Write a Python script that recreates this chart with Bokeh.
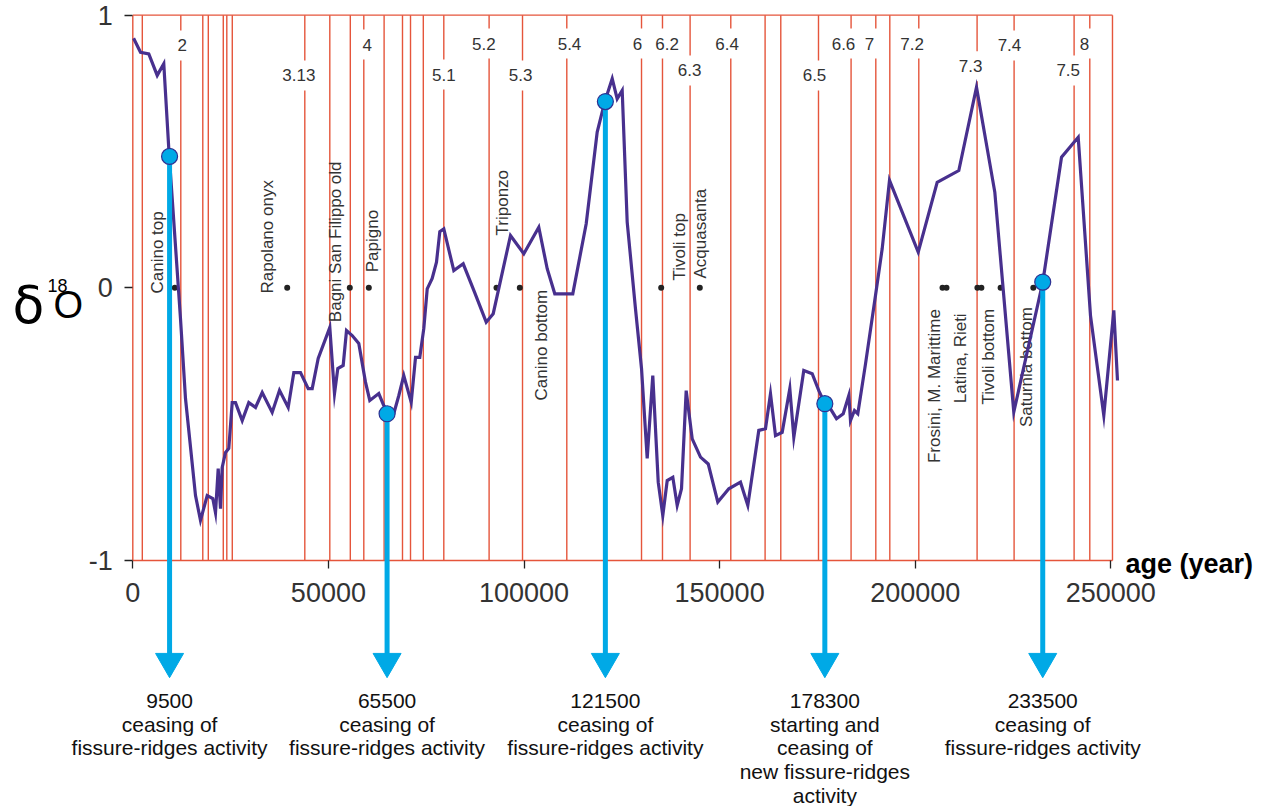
import math
from bokeh.plotting import figure
from bokeh.models import Range1d, LinearAxis, FixedTicker
from bokeh.core.properties import value
from bokeh.embed import file_html
from bokeh.resources import INLINE

# ---------------- data ----------------
age = [200, 1970, 4090, 6240, 7920, 9200, 12190, 13470, 16030, 17300,
       19020, 20450, 21140, 21830, 22420, 22850, 23700, 24540, 25410, 26250,
       27970, 29650, 31370, 33080, 35630, 37500, 39720, 41160, 42870, 44840,
       45860, 47390, 50360, 51560, 52400, 53780, 54630, 56080, 57770, 59480,
       60580, 62880, 64160, 65870, 66720, 68000, 69270, 71170, 72270, 73360,
       74390, 75260, 76530, 77630, 78480, 79500, 82060, 84460, 87350, 90340,
       92130, 96550, 99950, 103780, 105930, 107870, 112470, 115900, 118710, 120650,
       122550, 123820, 125100, 126380, 128500, 130040, 131490, 132920, 134310, 135480,
       136610, 138040, 139160, 140260, 141460, 143000, 145120, 147090, 149540, 152350,
       155340, 157210, 160020, 161730, 163010, 164290, 166000, 167950, 168970, 171520,
       173670, 175360, 176890, 178350, 179880, 181600, 183030, 183460, 184480, 185330,
       187300, 189850, 191560, 193430, 200770, 205620, 211150, 215670, 220350, 225200,
       232620, 237400, 241670, 244810, 248210, 250770, 251710]
d18o = [0.915, 0.864, 0.858, 0.779, 0.822, 0.510, -0.113, -0.406, -0.762, -0.853,
        -0.762, -0.773, -0.825, -0.663, -0.810, -0.659, -0.604, -0.589, -0.421, -0.421,
        -0.487, -0.421, -0.439, -0.384, -0.457, -0.376, -0.439, -0.311, -0.311, -0.370,
        -0.370, -0.259, -0.145, -0.388, -0.296, -0.285, -0.157, -0.175, -0.204, -0.346,
        -0.413, -0.388, -0.432, -0.462, -0.461, -0.395, -0.322, -0.420, -0.255, -0.255,
        -0.149, -0.004, 0.034, 0.094, 0.206, 0.216, 0.063, 0.088, -0.016, -0.126,
        -0.095, 0.192, 0.125, 0.222, 0.070, -0.022, -0.022, 0.235, 0.571, 0.683,
        0.767, 0.693, 0.724, 0.241, -0.077, -0.296, -0.626, -0.322, -0.713, -0.835,
        -0.707, -0.695, -0.798, -0.737, -0.377, -0.554, -0.621, -0.646, -0.786, -0.737,
        -0.713, -0.798, -0.523, -0.517, -0.389, -0.542, -0.530, -0.370, -0.548, -0.303,
        -0.315, -0.377, -0.425, -0.444, -0.480, -0.462, -0.395, -0.487, -0.450, -0.462,
        -0.279, -0.028, 0.143, 0.394, 0.131, 0.387, 0.430, 0.736, 0.351, -0.456,
        0.021, 0.479, 0.552, -0.102, -0.468, -0.083, -0.340]

# MIS boundaries (vertical red lines)
mis_bounds = [0, 2430, 12270, 17890, 19300, 23130, 24030, 25430, 43970, 50360,
              55600, 59050, 64240, 68940, 70990, 74260, 79500, 91080, 99620, 110940,
              130040, 135400, 142460, 152860, 161630, 165640, 175280, 183610, 189930,
              193510, 200920, 215820, 225280, 240620, 244630, 250430]
frame_end = 250430

stage_labels = ["2", "3.13", "4", "5.1", "5.2", "5.3", "5.4", "6", "6.2", "6.3",
                "6.4", "6.5", "6.6", "7", "7.2", "7.3", "7.4", "7.5", "8"]
stage_label_age = [12630, 42430, 59920, 79500, 89720, 99110, 111630, 129010, 136600, 142310,
                   151940, 174260, 181670, 188320, 199230, 214140, 224100, 239110, 243280]
stage_label_y = [0.889, 0.779, 0.892, 0.782, 0.896, 0.779, 0.896, 0.896, 0.896, 0.797,
                 0.896, 0.779, 0.896, 0.896, 0.896, 0.813, 0.889, 0.797, 0.896]

station_dot_age = [10740, 39470, 55470, 60330, 92970, 98930, 135070, 144940,
                   206980, 208000, 215900, 216920, 221830, 230190]
station_names = ["Canino top", "Rapolano onyx", "Bagni San Filippo old", "Papigno",
                 "Triponzo", "Canino bottom", "Tivoli top", "Acquasanta",
                 "Frosini, M. Marittime", "Latina, Rieti", "Tivoli bottom", "Saturnia bottom"]
station_label_age = [6310, 34560, 51820, 61400, 94630, 104350, 139750, 145120,
                     205060, 211500, 218610, 228450]
station_label_y = [-0.021, -0.021, -0.126, 0.057, 0.192, -0.413, 0.027, 0.034,
                   -0.643, -0.423, -0.428, -0.511]

event_age = [9400, 65000, 120800, 176900, 232600]
event_d18o = [0.482, -0.462, 0.683, -0.425, 0.021]
event_lines = [["9500", "ceasing of", "fissure-ridges activity"],
               ["65500", "ceasing of", "fissure-ridges activity"],
               ["121500", "ceasing of", "fissure-ridges activity"],
               ["178300", "starting and", "ceasing of", "new fissure-ridges", "activity"],
               ["233500", "ceasing of", "fissure-ridges activity"]]

xticks = [0, 50000, 100000, 150000, 200000, 250000]
xtick_labels = ["0", "50000", "100000", "150000", "200000", "250000"]
yticks = [-1, 0, 1]
ytick_labels = ["-1", "0", "1"]

# ---------------- layout helpers (screen px -> data) ----------------
X0_PX, X_SCALE = 132.3, 0.003912
Y0_PX, Y_SCALE = 287.3, 272.65
def ax(px):
    return (px - X0_PX) / X_SCALE
def ay(py):
    return (Y0_PX - py) / Y_SCALE

W, H = 1263, 806
RED = "#E5553B"
PURPLE = "#48308E"
BLUE = "#00A9E6"
FONT = value("Liberation Sans")

p = figure(width=W, height=H, x_range=Range1d(ax(0), ax(W)),
           y_range=Range1d(ay(H), ay(0)), output_backend="svg",
           toolbar_location=None, x_axis_location=None, y_axis_location=None,
           min_border=0, title=None)
p.outline_line_color = None
p.xgrid.visible = False
p.ygrid.visible = False

# axes
xax = LinearAxis(fixed_location=-1, ticker=FixedTicker(ticks=xticks))
xax.major_label_overrides = {t: l for t, l in zip(xticks, xtick_labels)}
yax = LinearAxis(fixed_location=0, ticker=FixedTicker(ticks=yticks))
yax.major_label_overrides = {t: l for t, l in zip(yticks, ytick_labels)}
for a in (xax, yax):
    a.axis_line_color = None
    a.major_tick_line_color = "#222222"
    a.major_tick_line_width = 1.3
    a.major_tick_out = 8
    a.major_tick_in = 0
    a.minor_tick_line_color = None
    a.major_label_text_font = "Liberation Sans"
    a.major_label_text_font_size = "27px"
    a.major_label_text_color = "#333333"
xax.major_label_standoff = 15
yax.major_label_standoff = 12
p.add_layout(xax, "below")
p.add_layout(yax, "left")

# red frame + MIS boundaries
p.segment(x0=mis_bounds, y0=[-1] * len(mis_bounds), x1=mis_bounds, y1=[1] * len(mis_bounds),
          line_color=RED, line_width=1.4)
p.segment(x0=[0, 0], y0=[1, -1], x1=[frame_end, frame_end], y1=[1, -1],
          line_color=RED, line_width=1.4)

# stage labels with white boxes
p.text(x=stage_label_age, y=stage_label_y, text=stage_labels,
       text_align="center", text_baseline="middle", text_font=FONT,
       text_font_size="17px", text_color="#333333",
       background_fill_color="white", padding=dict(left=4, right=4, top=9, bottom=9))

# station dots and labels
p.scatter(x=station_dot_age, y=[0] * len(station_dot_age), size=6,
          fill_color="#222222", line_color=None)
p.text(x=station_label_age, y=station_label_y, text=station_names,
       angle=math.pi / 2, text_align="left", text_baseline="middle",
       text_font=FONT, text_font_size="17px", text_color="#333333")

# isotope curve
p.line(age, d18o, line_color=PURPLE, line_width=3.2, line_join="miter")

# events: arrows, dots
shaft_end = [ay(656)] * len(event_age)
p.segment(x0=event_age, y0=event_d18o, x1=event_age, y1=shaft_end,
          line_color=BLUE, line_width=5)
p.scatter(x=event_age, y=[ay(661)] * len(event_age), marker="inverted_triangle",
          size=28, fill_color=BLUE, line_color=BLUE)
p.scatter(x=event_age, y=event_d18o, size=16, fill_color=BLUE,
          line_color="#2E3192", line_width=1.2)

ex, ey, et = [], [], []
for a_, lines in zip(event_age, event_lines):
    for i, t in enumerate(lines):
        ex.append(a_)
        ey.append(ay(700 + 23.7 * i))
        et.append(t)
p.text(x=ex, y=ey, text=et, text_align="center", text_baseline="middle",
       text_font=FONT, text_font_size="21px", text_color="#111111")

# axis titles
p.text(x=[ax(12)], y=[ay(304)], text=["δ"], text_align="left", text_baseline="alphabetic",
       text_font=value("DejaVu Sans"), text_font_size="52px", text_color="#000000")
p.text(x=[ax(47)], y=[ay(285)], text=["18"], text_align="left", text_baseline="alphabetic",
       text_font=FONT, text_font_size="18px", text_color="#000000")
p.text(x=[ax(53)], y=[ay(304)], text=["O"], text_align="left", text_baseline="alphabetic",
       text_font=FONT, text_font_size="38px", text_color="#000000")
p.text(x=[ax(1125)], y=[ay(563)], text=["age (year)"], text_align="left",
       text_baseline="middle", text_font=FONT, text_font_size="27px",
       text_font_style="bold", text_color="#000000")

open("out.html", "w").write(file_html(p, INLINE))
